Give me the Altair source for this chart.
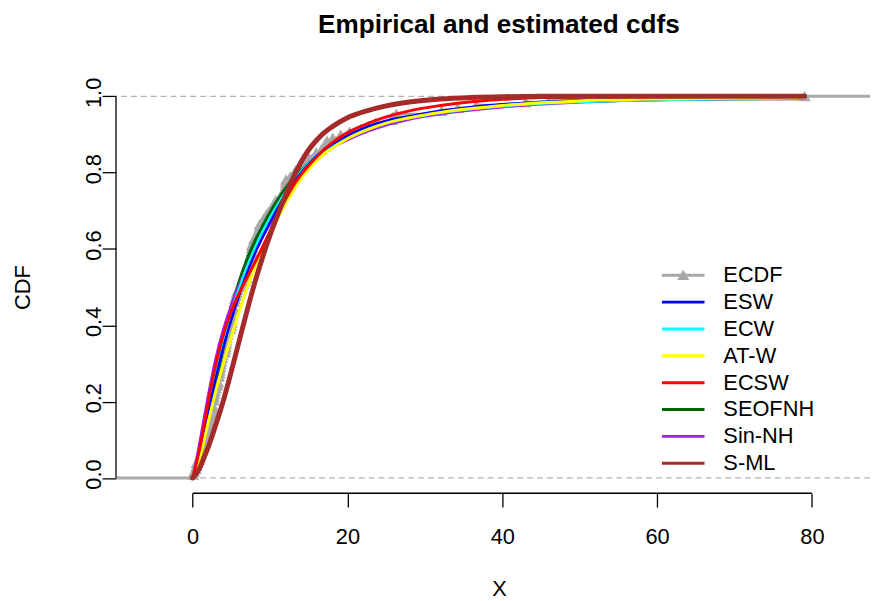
import altair as alt
import pandas as pd

# ---------------- data ----------------
remission_times = [
    0.08, 2.09, 3.48, 4.87, 6.94, 8.66, 13.11, 23.63, 0.20, 2.23, 3.52, 4.98, 6.97, 9.02, 13.29,
    0.40, 2.26, 3.57, 5.06, 7.09, 9.22, 13.80, 25.74, 0.50, 2.46, 3.64, 5.09, 7.26, 9.47, 14.24,
    25.82, 0.51, 2.54, 3.70, 5.17, 7.28, 9.74, 14.76, 26.31, 0.81, 2.62, 3.82, 5.32, 7.32, 10.06,
    14.77, 32.15, 2.64, 3.88, 5.32, 7.39, 10.34, 14.83, 34.26, 0.90, 2.69, 4.18, 5.34, 7.59, 10.66,
    15.96, 36.66, 1.05, 2.69, 4.23, 5.41, 7.62, 10.75, 16.62, 43.01, 1.19, 2.75, 4.26, 5.41, 7.63,
    17.12, 46.12, 1.26, 2.83, 4.33, 5.49, 7.66, 11.25, 17.14, 79.05, 1.35, 2.87, 5.62, 7.87, 11.64,
    17.36, 1.40, 3.02, 4.34, 5.71, 7.93, 11.79, 18.10, 1.46, 4.40, 5.85, 8.26, 11.98, 19.13, 1.76,
    3.25, 4.50, 6.25, 8.37, 12.02, 2.02, 3.31, 4.51, 6.54, 8.53, 12.03, 20.28, 2.02, 3.36, 6.76,
    12.07, 21.73, 2.07, 3.36, 6.93, 8.65, 12.63, 22.69,
]

x_grid = [0, 0.5, 1, 1.5, 2, 3, 4, 5, 6, 7, 8, 9, 10, 11, 12, 13, 14, 15, 16, 17, 18,
          20, 22.5, 25, 28, 32, 36, 40, 45, 50, 60, 70, 79.05]

cdf_esw = [0, 0.030, 0.062, 0.115, 0.168, 0.262, 0.345, 0.415, 0.478, 0.536, 0.586, 0.630, 0.670,
           0.708, 0.742, 0.772, 0.799, 0.822, 0.843, 0.860, 0.874, 0.897, 0.920, 0.936, 0.948,
           0.962, 0.972, 0.979, 0.985, 0.989, 0.993, 0.995, 0.997]
cdf_ecw = [0, 0.032, 0.066, 0.122, 0.176, 0.272, 0.357, 0.428, 0.490, 0.547, 0.596, 0.640, 0.679,
           0.714, 0.746, 0.775, 0.800, 0.822, 0.841, 0.858, 0.872, 0.894, 0.916, 0.932, 0.945,
           0.959, 0.969, 0.976, 0.983, 0.987, 0.992, 0.995, 0.997]
cdf_atw = [0, 0.025, 0.058, 0.100, 0.145, 0.228, 0.302, 0.370, 0.435, 0.497, 0.550, 0.596, 0.638,
           0.680, 0.719, 0.753, 0.784, 0.809, 0.831, 0.849, 0.864, 0.889, 0.912, 0.930, 0.944,
           0.958, 0.968, 0.976, 0.983, 0.988, 0.993, 0.995, 0.997]
cdf_ecsw = [0, 0.040, 0.085, 0.142, 0.198, 0.298, 0.378, 0.437, 0.484, 0.524, 0.563, 0.604, 0.646,
            0.690, 0.730, 0.766, 0.795, 0.819, 0.841, 0.861, 0.878, 0.905, 0.928, 0.946, 0.962,
            0.976, 0.986, 0.992, 0.997, 0.998, 0.999, 1.000, 1.000]
cdf_seofnh = [0, 0.030, 0.062, 0.110, 0.160, 0.258, 0.350, 0.437, 0.510, 0.568, 0.616, 0.656, 0.694,
              0.727, 0.757, 0.783, 0.804, 0.823, 0.840, 0.855, 0.868, 0.890, 0.913, 0.930, 0.944,
              0.958, 0.968, 0.976, 0.983, 0.987, 0.992, 0.995, 0.997]
cdf_sinnh = [0, 0.047, 0.100, 0.158, 0.213, 0.313, 0.390, 0.452, 0.504, 0.550, 0.592, 0.631, 0.666,
             0.699, 0.730, 0.763, 0.789, 0.812, 0.832, 0.850, 0.866, 0.886, 0.908, 0.925, 0.940,
             0.954, 0.964, 0.972, 0.980, 0.985, 0.991, 0.994, 0.996]
cdf_sml = [0, 0.012, 0.030, 0.055, 0.080, 0.140, 0.205, 0.280, 0.358, 0.436, 0.510, 0.576, 0.636,
           0.690, 0.740, 0.787, 0.828, 0.860, 0.885, 0.905, 0.920, 0.944, 0.962, 0.975, 0.985,
           0.993, 0.997, 0.999, 1.000, 1.000, 1.000, 1.000, 1.000]

series_names = ["ESW", "ECW", "AT-W", "ECSW", "SEOFNH", "Sin-NH", "S-ML"]
series_values = [cdf_esw, cdf_ecw, cdf_atw, cdf_ecsw, cdf_seofnh, cdf_sinnh, cdf_sml]

x_ticks = [0, 20, 40, 60, 80]
y_ticks = [0.0, 0.2, 0.4, 0.6, 0.8, 1.0]
ref_levels = [0, 1]

# ---------------- styles ----------------
series_colors = {"ESW": "#0000FF", "ECW": "#00FFFF", "AT-W": "#FFFF00", "ECSW": "#FF0000",
                 "SEOFNH": "#006400", "Sin-NH": "#A020F0", "S-ML": "#A52A2A"}
series_widths = {"ESW": 2.5, "ECW": 4, "AT-W": 3, "ECSW": 3, "SEOFNH": 4, "Sin-NH": 3, "S-ML": 5}
draw_order = ["SEOFNH", "Sin-NH", "ECW", "ESW", "AT-W", "ECSW", "S-ML"]
ECDF_GRAY = "#A9A9A9"
FONT = "Liberation Sans"
TRI = "M-1,0.8L0,-0.93L1,0.8Z"

W, H = 761, 416
xs = alt.Scale(domain=[-9.9, 87.5], nice=False, zero=False)
ys = alt.Scale(domain=[-0.04, 1.04], nice=False, zero=False)

x_axis = alt.Axis(values=x_ticks, domain=False, grid=False, tickSize=14, tickColor="black",
                  tickWidth=1.3, labelFont=FONT, labelFontSize=22, labelColor="black",
                  labelPadding=20, labelFlush=False, labelOverlap=False, title="X",
                  titleFont=FONT, titleFontSize=22, titleFontWeight="normal", titleColor="black",
                  titleX=386.5, titleY=103, titleBaseline="alphabetic", titleAlign="center")
y_axis = alt.Axis(values=y_ticks, format=".1f", domain=False, grid=False, tickSize=14,
                  tickColor="black", tickWidth=1.3, labelFont=FONT, labelFontSize=22,
                  labelColor="black", labelAngle=270, labelAlign="center",
                  labelBaseline="alphabetic", labelPadding=2, labelOffset=-4, labelFlush=False,
                  labelOverlap=False, title="CDF", titleFont=FONT, titleFontSize=22,
                  titleFontWeight="normal", titleColor="black", titleAngle=270,
                  titleX=-87, titleY=208, titleBaseline="alphabetic", titleAlign="center")

# dashed reference lines at 0 and 1 (carry the axes)
ref_df = pd.DataFrame({"y": ref_levels})
ref = alt.Chart(ref_df).mark_rule(color="#B3B3B3", strokeDash=[6, 4], strokeWidth=1.3).encode(
    y=alt.Y("y:Q", scale=ys, axis=y_axis)
)

ecdf_df = pd.DataFrame({"x": remission_times})
ecdf_base = alt.Chart(ecdf_df).transform_window(
    F="cume_dist()", nxt="lead(x)", sort=[alt.SortField("x", order="ascending")],
    frame=[None, None]
)
ecdf_steps = ecdf_base.transform_calculate(
    xe="isValid(datum.nxt) ? datum.nxt : datum.x + 1000"
).mark_rule(color=ECDF_GRAY, strokeWidth=3, clip=True).encode(
    x=alt.X("x:Q", scale=xs, axis=x_axis), x2="xe:Q", y=alt.Y("F:Q", scale=ys)
)
ecdf_left = alt.Chart(ecdf_df).transform_aggregate(xmin="min(x)").transform_calculate(
    xs0="datum.xmin - 1000", y0="0"
).mark_rule(color=ECDF_GRAY, strokeWidth=3, clip=True).encode(
    x=alt.X("xs0:Q", scale=xs), x2="xmin:Q", y=alt.Y("y0:Q", scale=ys)
)
ecdf_pts = ecdf_base.mark_point(shape=TRI, filled=True, size=150, color=ECDF_GRAY,
                                opacity=1, strokeWidth=0).encode(
    x=alt.X("x:Q", scale=xs), y=alt.Y("F:Q", scale=ys)
)

curves = []
for name in draw_order:
    vals = series_values[series_names.index(name)]
    df = pd.DataFrame({"x": x_grid, "F": vals})
    curves.append(
        alt.Chart(df).mark_line(color=series_colors[name], strokeWidth=series_widths[name],
                                interpolate="monotone", strokeCap="round", clip=True).encode(
            x=alt.X("x:Q", scale=xs), y=alt.Y("F:Q", scale=ys)
        )
    )

# axis lines spanning the tick range (R style)
xline = alt.Chart(pd.DataFrame({"a": [x_ticks[0]], "b": [x_ticks[-1]]})).mark_rule(
    color="black", strokeWidth=1.3).encode(
    x=alt.X("a:Q", scale=xs), x2="b:Q", y=alt.value(H)
)
yline = alt.Chart(pd.DataFrame({"a": [y_ticks[0]], "b": [y_ticks[-1]]})).mark_rule(
    color="black", strokeWidth=1.3).encode(
    y=alt.Y("a:Q", scale=ys), y2="b:Q", x=alt.value(0)
)

# legend (bottom right, no box)
legend_labels = ["ECDF"] + series_names
legend_colors = [ECDF_GRAY] + [series_colors[n] for n in series_names]
leg_x0, leg_x1, leg_tx, leg_y0, leg_dy = 551, 594, 613, 196, 27.1
legend_layers = []
for i, (lab, col) in enumerate(zip(legend_labels, legend_colors)):
    yy = leg_y0 + leg_dy * i
    ldf = pd.DataFrame({"label": [lab]})
    legend_layers.append(alt.Chart(ldf).mark_rule(color=col, strokeWidth=3).encode(
        x=alt.value(leg_x0), x2=alt.value(leg_x1), y=alt.value(yy)))
    legend_layers.append(alt.Chart(ldf).mark_text(
        align="left", baseline="middle", font=FONT, fontSize=22, color="black").encode(
        x=alt.value(leg_tx), y=alt.value(yy), text="label:N"))
    if lab == "ECDF":
        legend_layers.append(alt.Chart(ldf).mark_point(
            shape=TRI, filled=True, size=150, color=ECDF_GRAY, opacity=1, strokeWidth=0).encode(
            x=alt.value((leg_x0 + leg_x1) / 2), y=alt.value(yy)))

chart = alt.layer(
    ref, ecdf_left, ecdf_steps, ecdf_pts, *curves, xline, yline, *legend_layers
).properties(
    width=W, height=H,
    title=alt.TitleParams("Empirical and estimated cdfs", font=FONT, fontSize=26.4,
                          fontWeight="bold", color="black", anchor="middle", dx=6,
                          offset=18, baseline="alphabetic"),
    padding={"left": 109, "top": 71, "right": 0, "bottom": 105},
    autosize=alt.AutoSizeParams(type="none"),
    background="white",
).configure_view(stroke=None)

chart.save("out.html", embed_options={"renderer": "svg", "actions": False})
